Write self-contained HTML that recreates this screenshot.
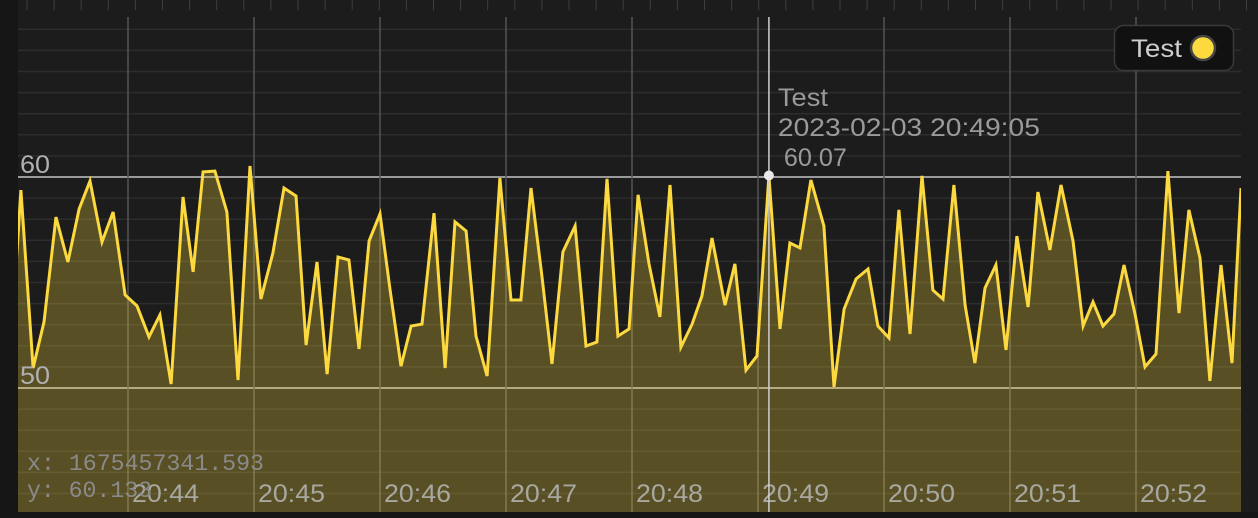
<!DOCTYPE html>
<html><head><meta charset="utf-8"><style>
html,body{margin:0;padding:0;background:#1c1c1c;}
svg{display:block;}
text{font-family:"Liberation Sans",sans-serif;}
</style></head><body>
<svg id="chart" width="1258" height="518" xmlns="http://www.w3.org/2000/svg">
<rect x="0" y="0" width="1258" height="518" fill="#1c1c1c"/>
<rect x="0" y="0" width="18" height="518" fill="#161616"/>
<rect x="0" y="512" width="1258" height="6" fill="#161616"/>
<g id="ticks"></g>
<g id="grid"></g>
<g id="series"></g>
<g id="labels"></g>
<g id="cross"></g>
<g>
  <rect x="1114.5" y="25.5" width="119" height="45" rx="9" fill="#111" stroke="#3a3a3a" stroke-width="1.5"/>
  <text x="1131" y="57" font-size="25" fill="#cfcfcf" textLength="51" lengthAdjust="spacingAndGlyphs">Test</text>
  <circle cx="1203" cy="48" r="12" fill="#fcd93f" stroke="#444" stroke-width="2.5"/>
</g>
<text x="27" y="470" font-size="23" fill="#8a8a8a" textLength="237" lengthAdjust="spacingAndGlyphs" style="font-family:'Liberation Mono',monospace">x: 1675457341.593</text>
<text x="27" y="497" font-size="23" fill="#8a8a8a" textLength="125" lengthAdjust="spacingAndGlyphs" style="font-family:'Liberation Mono',monospace">y: 60.133</text>
</svg>
<script>
const times = [-56.2,-51.0,-45.2,-40.0,-34.3,-28.6,-23.3,-18.1,-12.4,-7.1,-1.4,4.3,10.0,15.2,20.5,26.2,31.0,35.7,41.4,47.1,52.4,58.1,63.3,69.0,74.3,80.0,84.8,90.0,94.8,
100.0,105.2,110.0,114.8,120.0,124.8,130.0,134.8,140.0,145.7,151.0,155.7,161.0,165.7,171.0,177.1,182.4,187.1,191.9,197.1,201.9,207.1,212.9,218.1,223.3,228.1,233.3,238.6,242.9,
248.1,253.3,258.1,263.3,268.6,273.3,278.1,284.3,289.0,294.3,299.5,305.2,310.5,315.2,320.0,325.2,331.4,336.2,341.0,346.7,352.4,357.1,362.4,367.1,372.4,378.1,383.3,388.1,
393.3,398.6,403.3,408.1,413.3,418.1,423.3,428.6,433.3,439.0,444.3,450.0,454.8,459.5,464.3,469.5,474.3,479.5,484.3,489.5,495.2,500.5,505.2,510.5,515.2,520.5,525.7,530.0];
const values = [51.23,59.38,50.95,53.13,58.10,55.97,58.48,59.81,56.92,58.34,54.41,53.89,52.42,53.46,50.19,59.05,55.50,60.24,60.28,58.34,50.38,60.52,54.22,56.40,59.48,59.10,52.04,55.97,50.66,
56.21,56.07,51.85,56.97,58.25,54.64,51.04,52.94,53.03,58.29,50.95,57.87,57.44,52.46,50.57,59.95,54.17,54.17,59.48,55.31,51.14,56.45,57.68,51.99,52.18,59.91,52.46,52.80,59.15,
55.88,53.37,59.62,51.94,53.03,54.36,57.11,53.93,55.88,50.85,51.52,60.07,52.80,56.87,56.64,59.86,57.68,50.05,53.74,55.17,55.64,52.94,52.37,58.44,52.56,60.05,54.64,54.22,
59.62,53.93,51.18,54.74,55.83,51.80,57.20,53.84,59.29,56.54,59.62,56.97,52.94,54.08,52.94,53.51,55.83,53.51,51.00,51.61,60.28,53.55,58.44,56.16,50.33,55.83,51.18,59.48];
const xTickLabels = ["20:44","20:45","20:46","20:47","20:48","20:49","20:50","20:51","20:52"];
const yTickValues = [50,60];
const hoverT = 305.2;
const hoverV = 60.07;
const hoverLabel = "2023-02-03 20:49:05";

const NS="http://www.w3.org/2000/svg";
const L=18,R=1241,T=17,B=512;
const xS=t=>128+t*126/60;
const yS=v=>177+(60-v)*21.1;
function mk(tag,attrs,parent){const e=document.createElementNS(NS,tag);for(const k in attrs)e.setAttribute(k,attrs[k]);parent.appendChild(e);return e;}

const ticks=document.getElementById('ticks');
for(let x=27;x<1258;x+=27.1){
  const e=mk('line',{x1:x,x2:x,y1:0,y2:10,stroke:'#3e3e3e','stroke-width':1},ticks);
  
  
}
const grid=document.getElementById('grid');
for(let v=44;v<=67;v++){
  const y=yS(v); if(y<T||y>B) continue;
  const major=(v%10===0);
  const e=mk('line',{x1:L,x2:R,y1:y,y2:y,stroke:major?'#9a9a9a':'#2d2d2d','stroke-width':major?2:1.5},grid);
  
  
}
xTickLabels.forEach((s,i)=>{
  const x=xS(i*60);
  const e=mk('line',{x1:x,x2:x,y1:T,y2:B,stroke:'#555','stroke-width':1.5},grid);
  
  
});

const series=document.getElementById('series');
const defs=mk('defs',{},series);
const cp=mk('clipPath',{id:'clip'},defs);
mk('rect',{x:L,y:T,width:R-L,height:B-T},cp);
const pts=values.map((v,i)=>[xS(times[i]),yS(v)]);
const d=pts.map((p,i)=>(i?'L':'M')+p[0].toFixed(1)+','+p[1].toFixed(1)).join('');
const area=mk('path',{d:d+'L'+pts[pts.length-1][0].toFixed(1)+','+B+'L'+pts[0][0].toFixed(1)+','+B+'Z',fill:'rgba(252,217,63,0.27)','clip-path':'url(#clip)'},series);


const line=mk('path',{d:d,fill:'none',stroke:'#fcd93f','stroke-width':3,'stroke-linejoin':'miter','stroke-miterlimit':4,'clip-path':'url(#clip)'},series);



const labels=document.getElementById('labels');
yTickValues.forEach(v=>{
  const e=mk('text',{x:20,y:yS(v)-4,'font-size':25,fill:'#b0b0b0',textLength:30,lengthAdjust:'spacingAndGlyphs'},labels);
  e.textContent=String(v);
  
  
});
xTickLabels.forEach((s,i)=>{
  const e=mk('text',{x:xS(i*60)+4,y:502,'font-size':25,fill:'#a8a8a0',textLength:67,lengthAdjust:'spacingAndGlyphs'},labels);
  e.textContent=s;
  
  
});

const cross=document.getElementById('cross');
const hx=xS(hoverT),hy=yS(hoverV);
const cl=mk('line',{x1:hx,x2:hx,y1:T,y2:B,stroke:'#cfcfcf','stroke-width':1.5},cross);


const hc=mk('circle',{cx:hx,cy:hy,r:5,fill:'#e8e8e8'},cross);


const tips=[["Test",hx+9,50],[hoverLabel,hx+9,262],[hoverV.toFixed(2),hx+15,63]];
tips.forEach((s,i)=>{
  const e=mk('text',{x:s[1],y:106+i*30,'font-size':25,fill:'#9a9a9a',textLength:s[2],lengthAdjust:'spacingAndGlyphs'},cross);
  e.textContent=s[0];
  
  
});
</script>
</body></html>
